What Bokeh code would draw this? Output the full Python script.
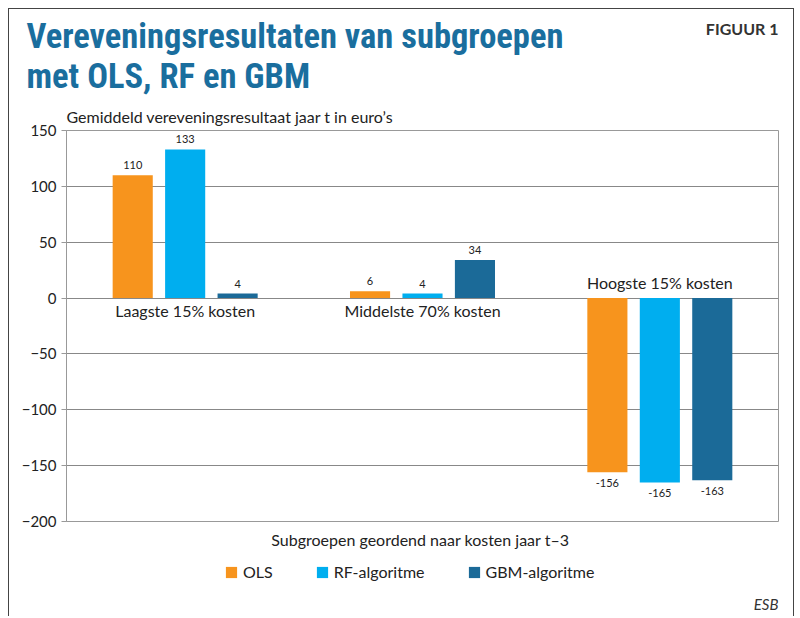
from bokeh.plotting import figure
from bokeh.layouts import column
from bokeh.models import (ColumnDataSource, FactorRange, Range1d, FixedTicker, Label,
                          Legend, LegendItem, Title)
from bokeh.transform import dodge
from bokeh.core.properties import value
from bokeh.embed import file_html
from bokeh.resources import INLINE

# ---- data ----
categories = ["Laagste 15% kosten", "Middelste 70% kosten", "Hoogste 15% kosten"]
series_names = ["OLS", "RF-algoritme", "GBM-algoritme"]
ols = [110, 6, -156]
rf = [133, 4, -165]
gbm = [4, 34, -163]
y_ticks = [-200, -150, -100, -50, 0, 50, 100, 150]
y_tick_labels = ["\u2212200", "\u2212150", "\u2212100", "\u221250", "0", "50", "100", "150"]

colors = ["#F7941D", "#00AEEF", "#1B6A98"]
FONT = "Lato, 'Open Sans', sans-serif"
TITLE_FONT = "'Liberation Sans Narrow', 'Roboto Condensed', Roboto, sans-serif"
title_color = "#1A6E9E"


def make_title(text, standoff, **kw):
    t = Title(text=text, **kw)
    try:
        t.standoff = standoff
    except Exception:
        t.standoff = 0
    return t


# ---------------- main chart ----------------
p = figure(width=784, height=550, x_range=FactorRange(*categories),
           y_range=Range1d(-200, 150), output_backend="svg", toolbar_location=None,
           min_border_left=57, min_border_right=15, min_border_top=121, min_border_bottom=38)
p.title.visible = False

source = ColumnDataSource(dict(cat=categories, ols=ols, rf=rf, gbm=gbm))

offsets = [-0.221, 0.0, 0.221]
keys = ["ols", "rf", "gbm"]
for k, off, c in zip(keys, offsets, colors):
    p.vbar(x=dodge("cat", off, range=p.x_range), top=k, bottom=0, width=0.169,
           source=source, fill_color=c, line_color=None)
    for sign in (1, -1):
        idx = [i for i, v in enumerate(source.data[k]) if (v >= 0) == (sign > 0)]
        if not idx:
            continue
        sub = ColumnDataSource(dict(cat=[categories[i] for i in idx],
                                    y=[source.data[k][i] for i in idx],
                                    t=[str(source.data[k][i]) for i in idx]))
        p.text(x=dodge("cat", off, range=p.x_range), y="y", text="t", source=sub,
               text_font=value(FONT), text_font_size="11px", text_color="#222222",
               text_align="center", text_baseline="bottom" if sign > 0 else "top",
               y_offset=-6 if sign > 0 else 7)

cat_y_off = [-16 if min(o, r_, g) < -50 else 12 for o, r_, g in zip(ols, rf, gbm)]
cat_src = ColumnDataSource(dict(cat=categories, y=[0] * 3, t=categories, off=cat_y_off))
p.text(x="cat", y="y", text="t", source=cat_src, y_offset="off",
       text_font=value(FONT), text_font_size="16px", text_color="#222222",
       text_align="center", text_baseline="middle")

p.yaxis.ticker = FixedTicker(ticks=y_ticks)
p.yaxis.major_label_overrides = {t: l for t, l in zip(y_ticks, y_tick_labels)}
p.yaxis.major_label_text_font = FONT
p.yaxis.major_label_text_font_size = "15px"
p.yaxis.major_label_text_color = "#222222"
p.yaxis.axis_line_color = "#999999"
p.yaxis.major_tick_line_color = "#999999"
p.yaxis.major_tick_out = 5
p.yaxis.major_tick_in = 0
p.yaxis.minor_tick_line_color = None

p.xaxis.major_label_text_font_size = "1px"
p.xaxis.major_label_text_alpha = 0
p.xaxis.major_label_standoff = 0
p.xaxis.major_tick_line_color = None
p.xaxis.major_tick_out = 0
p.xaxis.minor_tick_line_color = None
p.xaxis.axis_line_color = None
p.xaxis.axis_label = "Subgroepen geordend naar kosten jaar  t\u20133"
p.xaxis.axis_label_text_font = FONT
p.xaxis.axis_label_text_font_style = "normal"
p.xaxis.axis_label_text_font_size = "16px"
p.xaxis.axis_label_text_color = "#222222"
p.xaxis.axis_label_standoff = 8

p.xgrid.grid_line_color = None
p.ygrid.grid_line_color = "#888888"
p.ygrid.grid_line_width = 1
p.outline_line_color = "#999999"

# titles above the frame (first added = closest to the frame)
p.add_layout(make_title("Gemiddeld vereveningsresultaat jaar t in euro\u2019s", 9, align="left",
                        text_font=FONT, text_font_style="normal", text_font_size="16px",
                        text_color="#222222"), "above")
p.add_layout(make_title("met OLS, RF en GBM", 9, align="left", offset=-40,
                        text_font=TITLE_FONT, text_font_style="bold", text_font_size="34.5px",
                        text_color=title_color), "above")
p.add_layout(make_title("Vereveningsresultaten van subgroepen", -12, align="left", offset=-40,
                        text_font=TITLE_FONT, text_font_style="bold", text_font_size="34.5px",
                        text_color=title_color), "above")
p.add_layout(make_title("FIGUUR 1", -37, align="right",
                        text_font=FONT, text_font_style="bold", text_font_size="16px",
                        text_color="#333333"), "above")

# ---------------- footer: legend + source ----------------
foot = figure(width=784, height=57, x_range=FactorRange(*categories), y_range=Range1d(1000, 1001),
              x_axis_type=None, y_axis_type=None, output_backend="svg", toolbar_location=None,
              min_border_left=57, min_border_right=15, min_border_top=0, min_border_bottom=0)
foot.grid.visible = False
foot.outline_line_color = None
# zero-height proxies (same data, far outside the footer range) that only provide legend swatches
swatches = [foot.vbar(x="cat", bottom=k, top=k, width=0.1, source=source,
                      fill_color=c, line_color=None) for k, c in zip(keys, colors)]
legend = Legend(items=[LegendItem(label=n, renderers=[r]) for n, r in zip(series_names, swatches)],
                orientation="horizontal", location=(158, 35), border_line_color=None,
                label_text_font=FONT, label_text_font_size="16px", label_text_color="#222222",
                glyph_width=14, glyph_height=14, spacing=42, label_standoff=5,
                padding=4, margin=0, background_fill_alpha=0)
foot.add_layout(legend, "center")
foot.add_layout(Label(x=712, y=13, x_units="screen", y_units="screen", text="ESB",
                      text_font=FONT, text_font_style="italic",
                      text_font_size="15px", text_color="#333333", text_align="right",
                      text_baseline="middle"))

layout = column(p, foot, spacing=0,
                styles={"margin": "8px 0 0 8px", "border-left": "1px solid #444444",
                        "border-top": "1px solid #444444", "border-right": "1px solid #444444"})

open("out.html", "w").write(file_html(layout, INLINE))
